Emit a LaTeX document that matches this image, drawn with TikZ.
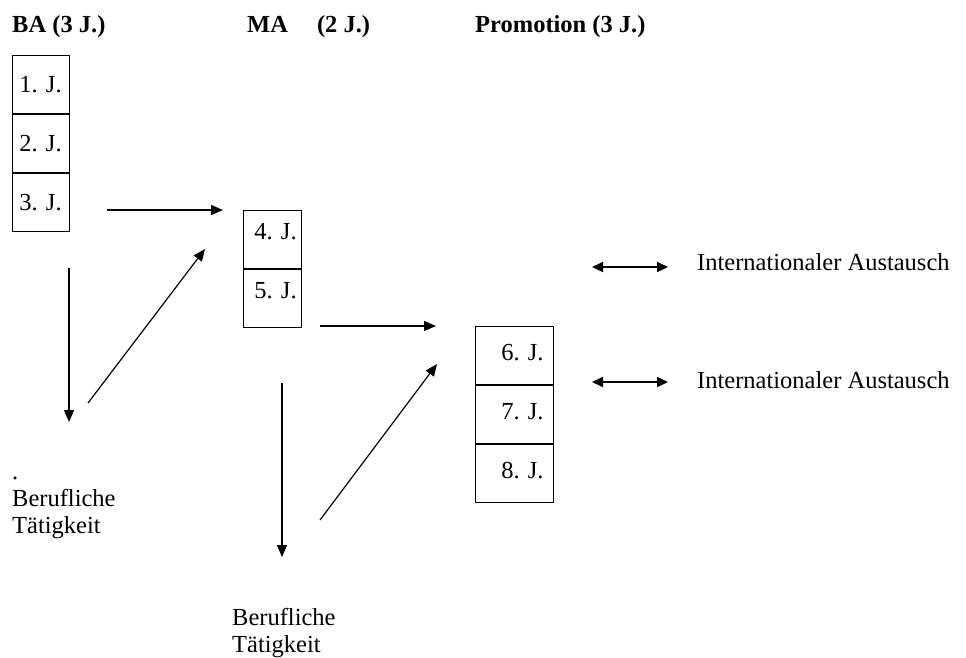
\documentclass[tikz,border=0pt]{standalone}
\usepackage{fontspec}
\setmainfont{Liberation Serif}
\usetikzlibrary{positioning}
\usetikzlibrary{arrows.meta}
\frenchspacing
\tikzset{
	textnode/.style = {
		inner sep=0pt,
		font=\fontsize{24.5}{27}\selectfont
	},
	headnode/.style = {
		textnode,
		font=\fontsize{24.5}{27}\selectfont\bfseries,
		anchor=base west
	},
	cell/.style = {
		textnode,
		rectangle,
		draw=black,
		line width=0.9pt,
		minimum height=58pt,
		text height=17pt
	},
	cell_ba/.style = {
		cell,
		inner xsep=7pt,
		text width=43pt,
		align=left,
		text depth=1pt
	},
	cell_ma/.style = {
		cell,
		inner xsep=11pt,
		text width=36pt,
		align=left,
		text depth=17pt
	},
	cell_pr/.style = {
		cell,
		inner xsep=10pt,
		text width=58pt,
		align=right,
		text depth=7pt
	},
	jobnode/.style = {
		textnode,
		align=left,
		anchor=north west
	},
	step_arrow/.style = {
		-{Triangle[length=12pt,width=10pt]},
		line width=1.2pt
	},
	swap_arrow/.style = {
		{Triangle[length=11pt,width=10pt]}-{Triangle[length=11pt,width=10pt]},
		line width=1.8pt
	}
}

\begin{document}
\begin{tikzpicture}[x=1pt,y=-1pt]
\useasboundingbox (0,0) rectangle (966,657);

% headings
\node [headnode] (h_ba) at (12,32) {BA (3 J.)};
\node [headnode] (h_ma) at (247,32) {MA\hspace{29pt}(2 J.)};
\node [headnode] (h_pr) at (475,32) {Promotion (3 J.)};

% BA
\node [cell_ba, anchor=north west] (j1) at (12,55) {1.~J.};
\node [cell_ba, below=0pt of j1] (j2) {2.~J.};
\node [cell_ba, below=0pt of j2] (j3) {3.~J.};

% MA
\node [cell_ma, anchor=north west] (j4) at (243,210) {4.~J.};
\node [cell_ma, below=0pt of j4] (j5) {5.~J.};

% Promotion
\node [cell_pr, anchor=north west] (j6) at (475,326) {6.~J.};
\node [cell_pr, below=0pt of j6] (j7) {7.~J.};
\node [cell_pr, below=0pt of j7] (j8) {8.~J.};

% Berufliche Taetigkeit
\node [jobnode] (beruf1) at (12,477) {.\\Berufliche\\Tätigkeit};
\node [jobnode] (beruf2) at (232,608) {Berufliche\\Tätigkeit};

% Austausch
\node [textnode, anchor=base west] (aust1) at (697,270) {Internationaler Austausch};
\node [textnode, anchor=base west] (aust2) at (697,388) {Internationaler Austausch};

% arrow ends
\coordinate (a1s) at (107,210);
\coordinate (a1e) at (223,210);
\coordinate (a2s) at (69,268);
\coordinate (a2e) at (69,422);
\coordinate (a3s) at (88,403);
\coordinate (a3e) at (205,249);
\coordinate (a4s) at (320,326);
\coordinate (a4e) at (436,326);
\coordinate (a5s) at (282,383);
\coordinate (a5e) at (282,557);
\coordinate (a6s) at (320,520);
\coordinate (a6e) at (437,364);
\coordinate (x1s) at (592,267);
\coordinate (x1e) at (668,267);
\coordinate (x2s) at (592,382);
\coordinate (x2e) at (668,382);

\draw [step_arrow] (a1s) -- (a1e);
\draw [step_arrow] (a2s) -- (a2e);
\draw [step_arrow] (a3s) -- (a3e);
\draw [step_arrow] (a4s) -- (a4e);
\draw [step_arrow] (a5s) -- (a5e);
\draw [step_arrow] (a6s) -- (a6e);
\draw [swap_arrow] (x1s) -- (x1e);
\draw [swap_arrow] (x2s) -- (x2e);
\end{tikzpicture}
\end{document}
